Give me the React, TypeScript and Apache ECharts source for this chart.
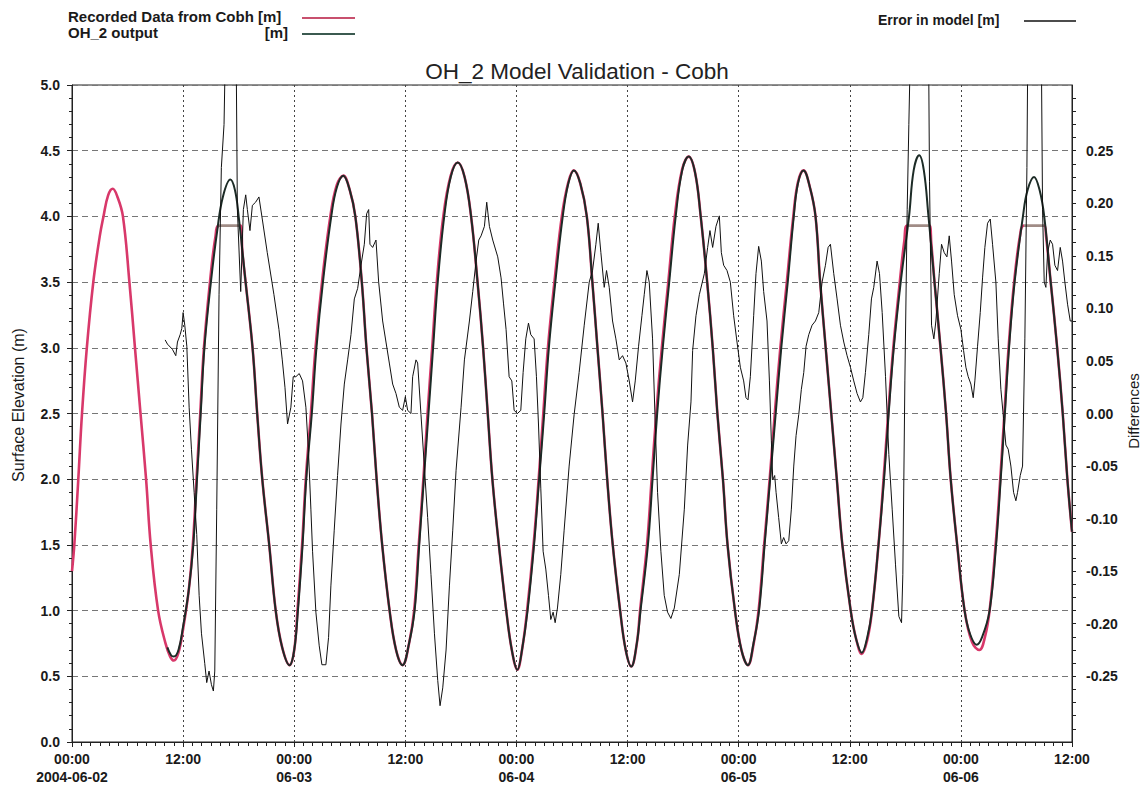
import React, { useEffect, useRef } from "react";
import * as echarts from "echarts";

const FONT = "'Liberation Sans', Arial, Helvetica, sans-serif";

const chartTitle = "OH_2 Model Validation - Cobh";
const seriesNames = ["Recorded Data from Cobh [m]", "OH_2 output", "Error in model [m]"];
const leftAxisName = "Surface Elevation (m)";
const rightAxisName = "Differences";
const xTickLabels = [
  "00:00\n2004-06-02", "12:00", "00:00\n06-03", "12:00", "00:00\n06-04",
  "12:00", "00:00\n06-05", "12:00", "00:00\n06-06", "12:00",
];

// hours since 2004-06-02 00:00, surface elevation [m]
const recordedData: [number, number][] = [
  [0, 1.3], [0.25, 1.5], [0.68, 2.0], [1.08, 2.5], [1.6, 3.0], [2.3, 3.5], [3.0, 3.85], [3.4, 4.0],
  [3.9, 4.16], [4.4, 4.21], [4.9, 4.15], [5.5, 4.0], [6.2, 3.5], [6.8, 3.0], [7.4, 2.5], [8.0, 2.0],
  [8.5, 1.5], [9.3, 1.0], [10.1, 0.75], [10.6, 0.65], [11.0, 0.62], [11.5, 0.68], [12.0, 0.86],
  [12.6, 1.15], [13.05, 1.5], [13.45, 2.0], [13.85, 2.5], [14.25, 3.0], [14.9, 3.5], [15.5, 3.85],
  [15.9, 3.93], [18.2, 3.93], [18.4, 3.73], [18.75, 3.5], [19.5, 3.0], [20.0, 2.5], [20.55, 2.0],
  [21.3, 1.5], [22.0, 1.0], [22.7, 0.72], [23.5, 0.585], [24.0, 0.7], [24.35, 1.0], [24.85, 1.5],
  [25.25, 2.0], [25.8, 2.5], [26.3, 3.0], [27.0, 3.5], [27.9, 4.0], [28.6, 4.24], [29.3, 4.31],
  [30.0, 4.2], [30.6, 4.0], [31.3, 3.5], [31.8, 3.0], [32.4, 2.5], [32.9, 2.0], [33.5, 1.5],
  [34.3, 1.0], [35.0, 0.7], [35.7, 0.585], [36.4, 0.75], [36.95, 1.0], [37.45, 1.5], [37.95, 2.0],
  [38.4, 2.5], [38.9, 3.0], [39.4, 3.5], [40.1, 4.0], [40.9, 4.31], [41.66, 4.41], [42.4, 4.3],
  [43.1, 4.0], [43.8, 3.5], [44.4, 3.0], [44.9, 2.5], [45.4, 2.0], [46.1, 1.5], [46.9, 1.0],
  [47.5, 0.7], [48.1, 0.55], [48.6, 0.7], [49.15, 1.0], [49.85, 1.5], [50.4, 2.0], [50.9, 2.5],
  [51.4, 3.0], [52.1, 3.5], [52.9, 4.0], [53.6, 4.26], [54.2, 4.35], [54.9, 4.25], [55.6, 4.0],
  [56.2, 3.5], [56.75, 3.0], [57.3, 2.5], [57.8, 2.0], [58.4, 1.5], [59.2, 1.0], [59.8, 0.7],
  [60.4, 0.575], [61.0, 0.75], [61.35, 1.0], [62.1, 1.5], [62.6, 2.0], [63.1, 2.5], [63.7, 3.0],
  [64.4, 3.5], [65.1, 4.0], [65.9, 4.36], [66.6, 4.455], [67.3, 4.33], [67.9, 4.0], [68.6, 3.5],
  [69.2, 3.0], [69.7, 2.5], [70.3, 2.0], [70.8, 1.5], [71.6, 1.0], [72.3, 0.7], [73.0, 0.585],
  [73.6, 0.74], [74.15, 1.0], [74.75, 1.5], [75.35, 2.0], [75.9, 2.5], [76.5, 3.0], [77.2, 3.5],
  [77.9, 4.0], [78.4, 4.26], [79.0, 4.35], [79.7, 4.22], [80.3, 4.0], [80.8, 3.5], [81.4, 3.0],
  [82.0, 2.5], [82.6, 2.0], [83.2, 1.5], [84.1, 1.0], [84.7, 0.78], [85.3, 0.67], [85.9, 0.78],
  [86.4, 1.0], [87.1, 1.5], [87.65, 2.0], [88.15, 2.5], [88.7, 3.0], [89.4, 3.5], [89.9, 3.82],
  [90.2, 3.93], [92.6, 3.93], [92.8, 3.8], [93.15, 3.5], [93.8, 3.0], [94.4, 2.5], [94.9, 2.0],
  [95.6, 1.5], [96.4, 1.0], [97.2, 0.76], [98.0, 0.7], [98.6, 0.8], [99.1, 1.0], [99.75, 1.5],
  [100.25, 2.0], [100.7, 2.5], [101.15, 3.0], [101.75, 3.5], [102.4, 3.86], [102.8, 3.93],
  [105.0, 3.93], [105.2, 3.85], [105.7, 3.5], [106.4, 3.0], [107.0, 2.5], [107.5, 2.0], [108, 1.6],
];

const modelData: [number, number][] = [
  [10.3, 0.72], [10.7, 0.66], [11.0, 0.65], [11.5, 0.7], [12.0, 0.88], [12.6, 1.15], [13.1, 1.5],
  [13.5, 2.0], [13.9, 2.5], [14.3, 3.0], [15.0, 3.5], [15.7, 3.9], [16.3, 4.15], [17.1, 4.28],
  [17.6, 4.2], [18.0, 4.0], [18.75, 3.5], [19.5, 3.0], [20.0, 2.5], [20.55, 2.0], [21.3, 1.5],
  [22.0, 1.0], [22.7, 0.72], [23.5, 0.585], [24.0, 0.7], [24.4, 1.0], [24.9, 1.5], [25.3, 2.0],
  [25.9, 2.5], [26.4, 3.0], [27.1, 3.5], [28.0, 4.0], [28.6, 4.22], [29.3, 4.31], [30.0, 4.2],
  [30.6, 4.0], [31.3, 3.5], [31.8, 3.0], [32.4, 2.5], [32.9, 2.0], [33.5, 1.5], [34.3, 1.0],
  [35.0, 0.7], [35.7, 0.585], [36.4, 0.75], [37.0, 1.0], [37.5, 1.5], [38.0, 2.0], [38.5, 2.5],
  [39.0, 3.0], [39.5, 3.5], [40.2, 4.0], [40.9, 4.3], [41.66, 4.41], [42.4, 4.3], [43.1, 4.0],
  [43.8, 3.5], [44.4, 3.0], [44.9, 2.5], [45.4, 2.0], [46.1, 1.5], [46.9, 1.0], [47.5, 0.7],
  [48.1, 0.55], [48.6, 0.7], [49.2, 1.0], [49.9, 1.5], [50.45, 2.0], [51.0, 2.5], [51.5, 3.0],
  [52.2, 3.5], [53.0, 4.0], [53.6, 4.25], [54.2, 4.35], [54.9, 4.25], [55.6, 4.0], [56.2, 3.5],
  [56.75, 3.0], [57.3, 2.5], [57.8, 2.0], [58.4, 1.5], [59.2, 1.0], [59.8, 0.7], [60.4, 0.575],
  [61.0, 0.75], [61.4, 1.0], [62.2, 1.5], [62.7, 2.0], [63.2, 2.5], [63.8, 3.0], [64.5, 3.5],
  [65.2, 4.0], [65.9, 4.35], [66.6, 4.455], [67.3, 4.33], [67.9, 4.0], [68.6, 3.5], [69.2, 3.0],
  [69.7, 2.5], [70.3, 2.0], [70.8, 1.5], [71.6, 1.0], [72.3, 0.7], [73.0, 0.585], [73.6, 0.75],
  [74.2, 1.0], [74.8, 1.5], [75.4, 2.0], [76.0, 2.5], [76.6, 3.0], [77.3, 3.5], [77.95, 4.0],
  [78.4, 4.25], [79.0, 4.35], [79.7, 4.22], [80.3, 4.0], [80.8, 3.5], [81.4, 3.0], [82.0, 2.5],
  [82.6, 2.0], [83.2, 1.5], [84.1, 1.0], [84.7, 0.78], [85.3, 0.68], [85.9, 0.8], [86.4, 1.0],
  [87.1, 1.5], [87.7, 2.0], [88.2, 2.5], [88.75, 3.0], [89.5, 3.5], [90.4, 4.0], [90.9, 4.35],
  [91.5, 4.465], [92.0, 4.35], [92.5, 4.0], [93.15, 3.5], [93.8, 3.0], [94.4, 2.5], [94.9, 2.0],
  [95.6, 1.5], [96.4, 1.0], [97.0, 0.82], [97.7, 0.74], [98.3, 0.8], [99.1, 1.0], [99.8, 1.5],
  [100.3, 2.0], [100.75, 2.5], [101.2, 3.0], [101.8, 3.5], [102.7, 4.0], [103.2, 4.2],
  [103.9, 4.3], [104.5, 4.2], [105.0, 4.0], [105.7, 3.5], [106.4, 3.0], [107.0, 2.5], [107.5, 2.0],
  [108, 1.6],
];

// model error [m] (right axis), spikes beyond the axis are clipped
const errorData: [number, number][] = [
  [10.06, 0.07], [10.31, 0.066], [10.85, 0.061], [11.21, 0.055], [11.39, 0.068], [11.68, 0.075],
  [11.86, 0.081], [12.0, 0.096], [12.18, 0.084], [12.4, 0.064], [12.65, 0.006], [12.9, -0.034],
  [13.19, -0.075], [13.47, -0.115], [13.73, -0.173], [13.98, -0.209], [14.34, -0.238], [14.55, -0.256],
  [14.8, -0.245], [15.06, -0.258], [15.27, -0.264], [15.42, -0.245], [15.63, -0.091], [15.88, 0.113],
  [16.13, 0.234], [16.42, 0.275], [16.67, 0.4], [17.18, 0.45], [17.68, 0.4], [17.86, 0.194],
  [18.22, 0.116], [18.51, 0.194], [18.76, 0.208], [18.94, 0.194], [19.22, 0.174], [19.48, 0.198],
  [19.83, 0.201], [20.19, 0.206], [20.55, 0.185], [21.09, 0.153], [21.81, 0.113], [22.35, 0.08],
  [22.71, 0.051], [23.0, 0.025], [23.28, -0.01], [23.64, 0.006], [23.89, 0.035], [24.18, 0.035],
  [24.54, 0.038], [24.9, 0.031], [25.26, 0.006], [25.55, -0.038], [25.8, -0.091], [25.98, -0.131],
  [26.34, -0.189], [26.7, -0.221], [26.99, -0.239], [27.42, -0.239], [27.71, -0.213], [27.96, -0.164],
  [28.32, -0.111], [28.68, -0.059], [29.05, -0.01], [29.41, 0.028], [29.77, 0.051], [30.13, 0.075],
  [30.49, 0.109], [30.85, 0.119], [31.21, 0.141], [31.57, 0.161], [31.82, 0.19], [32.04, 0.194],
  [32.18, 0.161], [32.47, 0.158], [32.83, 0.165], [33.12, 0.125], [33.55, 0.088], [33.91, 0.068],
  [34.27, 0.048], [34.63, 0.028], [34.99, 0.019], [35.35, 0.006], [35.71, 0.003], [36.0, 0.016],
  [36.25, 0.003], [36.61, 0.0], [36.79, 0.035], [37.15, 0.051], [37.33, 0.048], [37.69, -0.001],
  [38.05, -0.05], [38.41, -0.099], [38.77, -0.153], [39.14, -0.209], [39.5, -0.254], [39.75, -0.278],
  [40.04, -0.261], [40.4, -0.225], [40.76, -0.164], [41.12, -0.111], [41.48, -0.054], [42.02, 0.006],
  [42.38, 0.051], [42.92, 0.088], [43.28, 0.116], [43.64, 0.145], [43.93, 0.165], [44.18, 0.169],
  [44.54, 0.178], [44.79, 0.201], [45.08, 0.178], [45.44, 0.165], [45.98, 0.149], [46.34, 0.129],
  [46.6, 0.105], [46.88, 0.08], [47.21, 0.035], [47.5, 0.031], [47.75, 0.003], [48.11, 0.0],
  [48.47, 0.003], [48.72, 0.039], [49.01, 0.071], [49.3, 0.086], [49.55, 0.075], [49.91, 0.071],
  [50.16, 0.035], [50.38, -0.01], [50.63, -0.071], [50.88, -0.131], [51.17, -0.148], [51.46, -0.173],
  [51.71, -0.196], [51.96, -0.189], [52.18, -0.199], [52.43, -0.185], [52.79, -0.153], [53.15, -0.111],
  [53.69, -0.05], [54.23, -0.001], [54.77, 0.039], [55.32, 0.084], [55.86, 0.125], [56.22, 0.136],
  [56.58, 0.161], [56.83, 0.181], [57.12, 0.153], [57.48, 0.12], [57.73, 0.136], [58.02, 0.12],
  [58.38, 0.088], [58.74, 0.071], [59.1, 0.051], [59.46, 0.055], [59.82, 0.048], [60.18, 0.031],
  [60.54, 0.011], [60.83, 0.031], [61.19, 0.064], [61.55, 0.093], [61.8, 0.113], [62.09, 0.136],
  [62.34, 0.125], [62.7, 0.071], [62.99, -0.01], [63.24, -0.075], [63.6, -0.131], [63.96, -0.173],
  [64.32, -0.189], [64.68, -0.195], [65.05, -0.185], [65.59, -0.153], [66.13, -0.091], [66.49, -0.03],
  [66.85, 0.011], [67.03, 0.06], [67.39, 0.093], [67.75, 0.113], [68.29, 0.133], [68.65, 0.158],
  [68.9, 0.174], [69.19, 0.158], [69.55, 0.178], [69.91, 0.188], [70.13, 0.153], [70.38, 0.141],
  [70.74, 0.136], [71.1, 0.125], [71.46, 0.093], [71.82, 0.068], [72.18, 0.044], [72.54, 0.031],
  [72.79, 0.015], [73.01, 0.013], [73.26, 0.035], [73.62, 0.093], [73.87, 0.133], [74.16, 0.159],
  [74.45, 0.145], [74.7, 0.116], [75.06, 0.088], [75.32, 0.031], [75.53, -0.026], [75.68, -0.063],
  [75.89, -0.059], [76.04, -0.075], [76.32, -0.099], [76.61, -0.124], [76.86, -0.118], [77.12, -0.124],
  [77.41, -0.121], [77.69, -0.091], [77.95, -0.05], [78.2, -0.021], [78.49, -0.001], [78.77, 0.023],
  [79.03, 0.039], [79.28, 0.064], [79.57, 0.075], [79.93, 0.084], [80.29, 0.088], [80.65, 0.096],
  [81.01, 0.125], [81.37, 0.141], [81.66, 0.158], [81.91, 0.161], [82.27, 0.133], [82.63, 0.109],
  [82.99, 0.084], [83.35, 0.068], [83.71, 0.055], [84.07, 0.044], [84.43, 0.031], [84.79, 0.019],
  [85.15, 0.011], [85.41, 0.015], [85.69, 0.039], [86.05, 0.075], [86.34, 0.109], [86.59, 0.12],
  [86.95, 0.145], [87.21, 0.133], [87.5, 0.096], [87.86, 0.035], [88.22, -0.039], [88.58, -0.091],
  [88.94, -0.144], [89.3, -0.193], [89.59, -0.199], [89.73, -0.153], [89.95, 0.031], [90.2, 0.194],
  [90.38, 0.275], [90.67, 0.4], [91.57, 0.45], [92.47, 0.4], [92.61, 0.221], [92.83, 0.084],
  [93.08, 0.071], [93.3, 0.088], [93.66, 0.133], [93.91, 0.161], [94.2, 0.153], [94.49, 0.149],
  [94.74, 0.169], [94.99, 0.145], [95.28, 0.113], [95.64, 0.093], [96.0, 0.08], [96.29, 0.06],
  [96.54, 0.044], [96.79, 0.035], [97.08, 0.028], [97.33, 0.015], [97.51, 0.031], [97.8, 0.064],
  [98.09, 0.096], [98.34, 0.129], [98.59, 0.158], [98.88, 0.181], [99.17, 0.185], [99.42, 0.161],
  [99.78, 0.125], [100.03, 0.071], [100.32, 0.023], [100.61, -0.005], [100.86, -0.03], [101.11, -0.034],
  [101.4, -0.05], [101.69, -0.075], [101.94, -0.083], [102.12, -0.075], [102.41, -0.059], [102.66, -0.05],
  [102.91, 0.071], [103.13, 0.234], [103.27, 0.4], [103.92, 0.45], [104.64, 0.4], [104.82, 0.194],
  [105.0, 0.125], [105.18, 0.12], [105.36, 0.153], [105.65, 0.165], [105.9, 0.161], [106.15, 0.141],
  [106.44, 0.136], [106.73, 0.158], [106.98, 0.145], [107.23, 0.125], [107.52, 0.104], [107.81, 0.088],
  [108.0, 0.088],
];

// periods (hours) where the recorded gauge is saturated (drawn grey)
const saturatedPeriods: [number, number][] = [[15.9, 18.2], [90.2, 92.6], [102.8, 105.0]];

const RED = "#d8386a";
const SAT = "#a08c86";
const MODEL = "#1c2b26";
const INK = "#1a1a1a";

export default function App() {
  const ref = useRef<HTMLDivElement>(null);
  useEffect(() => {
    if (!ref.current) return;
    const chart = echarts.init(ref.current, undefined, { renderer: "svg" });
    const tickLabel = {
      fontFamily: FONT,
      fontSize: 14,
      fontWeight: "bold",
      color: INK,
    };
    const option: any = {
      animation: false,
      backgroundColor: "#ffffff",
      title: {
        text: chartTitle,
        left: 572,
        textAlign: "center",
        top: 55,
        textStyle: { fontFamily: FONT, fontSize: 22.5, fontWeight: "normal", color: "#222" },
      },
      grid: {
        left: 72, right: 69, top: 85, bottom: 50,
        show: true, borderColor: "#222", borderWidth: 1, backgroundColor: "transparent",
      },
      visualMap: {
        type: "piecewise",
        show: false,
        seriesIndex: 0,
        dimension: 0,
        pieces: saturatedPeriods.map(([a, b]) => ({ gte: a, lte: b, color: SAT })),
        outOfRange: { color: RED },
      },
      xAxis: {
        type: "value",
        min: 0,
        max: 108,
        interval: 12,
        axisLine: { show: true, lineStyle: { color: "#222", width: 1 } },
        axisTick: { show: true, length: 5, lineStyle: { color: "#222" } },
        minorTick: { show: true, splitNumber: 12, length: 4, lineStyle: { color: "#222" } },
        axisLabel: {
          ...tickLabel,
          showMinLabel: true,
          showMaxLabel: true,
          margin: 8,
          lineHeight: 18,
          formatter: (v: number) => xTickLabels[Math.round(v / 12)] ?? "",
        },
        splitLine: { show: true, lineStyle: { type: [2, 3], color: "#444", width: 1 } },
        minorSplitLine: { show: false },
      },
      yAxis: [
        {
          type: "value",
          min: 0,
          max: 5,
          interval: 0.5,
          position: "left",
          axisLine: { show: true, lineStyle: { color: "#222" } },
          axisTick: { show: true, length: 5, lineStyle: { color: "#222" } },
          minorTick: { show: true, splitNumber: 5, length: 3, lineStyle: { color: "#222" } },
          axisLabel: { ...tickLabel, margin: 12, formatter: (v: number) => v.toFixed(1) },
          splitLine: { show: true, lineStyle: { type: [6, 4], color: "#777", width: 1 } },
        },
        {
          type: "value",
          min: -0.3125,
          max: 0.3125,
          interval: 0.0125,
          position: "right",
          axisLine: { show: true, lineStyle: { color: "#222" } },
          axisTick: { show: true, length: 4, lineStyle: { color: "#222" } },
          axisLabel: {
            ...tickLabel,
            margin: 14,
            showMinLabel: false,
            showMaxLabel: false,
            formatter: (v: number) => {
              const k = Math.round(v / 0.05);
              if (Math.abs(v - k * 0.05) < 1e-6 && Math.abs(v) < 0.2501) return (k * 0.05).toFixed(2);
              return "";
            },
          },
          splitLine: { show: false },
        },
      ],
      series: [
        {
          name: seriesNames[0],
          type: "line",
          data: recordedData,
          showSymbol: false,
          smooth: 0.4,
          lineStyle: { width: 2.6 },
          z: 2,
        },
        {
          name: seriesNames[1],
          type: "line",
          data: modelData,
          showSymbol: false,
          smooth: 0.4,
          lineStyle: { width: 2, color: MODEL },
          itemStyle: { color: MODEL },
          z: 3,
        },
        {
          name: seriesNames[2],
          type: "line",
          yAxisIndex: 1,
          data: errorData,
          showSymbol: false,
          lineStyle: { width: 1, color: "#111" },
          itemStyle: { color: "#111" },
          z: 4,
        },
      ],
      graphic: [
        {
          type: "text", left: 68, top: 9,
          style: { text: seriesNames[0], font: `bold 15px ${FONT}`, fill: INK },
        },
        {
          type: "text", left: 68, top: 25,
          style: { text: seriesNames[1], font: `bold 15px ${FONT}`, fill: INK },
        },
        {
          type: "text", right: 1141 - 288, top: 25,
          style: { text: "[m]", font: `bold 15px ${FONT}`, fill: INK },
        },
        { type: "line", shape: { x1: 302, y1: 18, x2: 355, y2: 18 }, style: { stroke: "#c8506e", lineWidth: 2 } },
        { type: "line", shape: { x1: 302, y1: 34, x2: 355, y2: 34 }, style: { stroke: "#3b5a50", lineWidth: 2 } },
        {
          type: "text", left: 878, top: 13,
          style: { text: seriesNames[2], font: `bold 14px ${FONT}`, fill: INK },
        },
        { type: "line", shape: { x1: 1024, y1: 21, x2: 1076, y2: 21 }, style: { stroke: "#111", lineWidth: 1.5 } },
        {
          type: "text", x: 18, y: 405, rotation: Math.PI / 2,
          style: { text: leftAxisName, font: `16px ${FONT}`, fill: INK, align: "center", verticalAlign: "middle" },
        },
        {
          type: "text", x: 1133, y: 411, rotation: Math.PI / 2,
          style: { text: rightAxisName, font: `15px ${FONT}`, fill: INK, align: "center", verticalAlign: "middle" },
        },
      ],
    };
    chart.setOption(option);
    return () => chart.dispose();
  }, []);
  return (
    <div
      ref={ref}
      style={{ position: "absolute", left: 0, top: 0, width: 1141, height: 792, background: "#fff" }}
    />
  );
}
